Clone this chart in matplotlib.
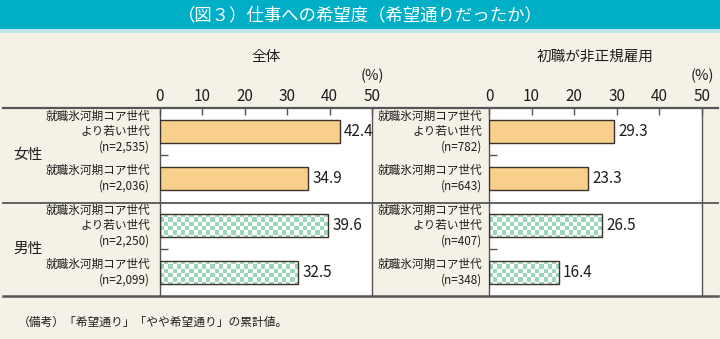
import numpy as np
import matplotlib
matplotlib.use("Agg")
import matplotlib.pyplot as plt
from matplotlib.lines import Line2D
from matplotlib.patches import Rectangle

plt.rcParams['font.family'] = ['Noto Sans CJK JP', 'DejaVu Sans']

# data
row_labels = ["就職氷河期コア世代\nより若い世代\n(n={})", "就職氷河期コア世代\n(n={})",
              "就職氷河期コア世代\nより若い世代\n(n={})", "就職氷河期コア世代\n(n={})"]
groups = ["女性", "男性"]
panel_titles = ["全体", "初職が非正規雇用"]
n_all = ["2,535", "2,036", "2,250", "2,099"]
n_irregular = ["782", "643", "407", "348"]
vals_all = [42.4, 34.9, 39.6, 32.5]
vals_irregular = [29.3, 23.3, 26.5, 16.4]
xticks = [0, 10, 20, 30, 40, 50]

W, H = 720, 339
bg = "#f4f1e6"
teal = "#00afc6"
orange = "#f9cf8c"
green = "#9bd7b8"
edge = "#3a3128"
line_c = "#555555"
txt = "#1e1e1e"

fig = plt.figure(figsize=(W / 100, H / 100), dpi=100, facecolor=bg)


def fx(px):
    return px / W


def fy(py):
    return 1 - py / H


# title band
fig.add_artist(Rectangle((0, fy(29)), 1, 29 / H, transform=fig.transFigure,
                         color=teal, lw=0))
fig.add_artist(Rectangle((0, fy(33)), 1, 4 / H, transform=fig.transFigure,
                         color="#bfe6ec", lw=0))
fig.text(0.5, fy(15), "（図３）仕事への希望度（希望通りだったか）", color="white",
         fontsize=12.5, ha="center", va="center")

top, bottom = 108, 296
panels = [(160, 372, vals_all, n_all, 150, panel_titles[0]),
          (489, 702, vals_irregular, n_irregular, 482, panel_titles[1])]

ypos = np.arange(4)
checker = (np.indices((60, 80)).sum(axis=0) % 2).astype(float)
cmap = matplotlib.colors.ListedColormap(["white", green])

for x0, x1, vals, ns, lab_x, title in panels:
    ax = fig.add_axes([fx(x0), fy(bottom), fx(x1 - x0), (bottom - top) / H])
    ax.set_facecolor("white")
    ax.set_xlim(0, 50)
    ax.set_ylim(3.5, -0.5)
    colors = [orange, orange, "white", "white"]
    bars = ax.barh(ypos, vals, height=0.49, color=colors, edgecolor=edge, lw=1.0, zorder=3)
    # checker fill for the male bars
    cw = 50 / (x1 - x0) * 4.2
    ch = 4 / (bottom - top) * 4.2
    for b in bars[2:]:
        xb, yb = b.get_x(), b.get_y()
        wb, hb = b.get_width(), b.get_height()
        nxc = int(np.ceil(wb / cw)) + 1
        nyc = int(np.ceil(hb / ch)) + 1
        im = ax.imshow(checker[:nyc, :nxc], cmap=cmap, vmin=0, vmax=1,
                       extent=(xb, xb + nxc * cw, yb, yb + nyc * ch),
                       origin="lower", interpolation="nearest", aspect="auto", zorder=2)
        im.set_clip_path(b)
        b.set_facecolor("none")
    for v, y in zip(vals, ypos):
        ax.text(v + 1.0, y, f"{v:.1f}", fontsize=11, va="center", ha="left", color=txt)
    ax.set_xticks(xticks)
    ax.xaxis.tick_top()
    ax.tick_params(axis="x", direction="in", length=5, width=1, color=line_c,
                   labelsize=11, pad=2, labelcolor=txt)
    ax.set_yticks([0.5, 2.5])
    ax.set_yticklabels([])
    ax.tick_params(axis="y", direction="in", length=6, width=1, color=line_c)
    for s in ax.spines.values():
        s.set_color(line_c)
        s.set_linewidth(1)
    ax.spines["top"].set_visible(False)
    ax.spines["bottom"].set_visible(False)
    # (%) and panel header
    fig.text(fx(x1), fy(76), "(%)", fontsize=10.5, ha="center", va="center", color=txt)
    fig.text(fx((x0 + x1) / 2), fy(57), title, fontsize=10.5, ha="center", va="center",
             color=txt)
    for y, lab, n in zip(ypos, row_labels, ns):
        fig.text(fx(lab_x), fy(top + (y + 0.5) * 47), lab.format(n), fontsize=8.4,
                 ha="right", va="center", linespacing=1.22, color=txt)

# group labels
for i, g in enumerate(groups):
    fig.text(fx(28), fy(top + (1 + 2 * i) * 47), g, fontsize=10.5, ha="center", va="center",
             color=txt)

# horizontal rules across the table
for py, lw in [(top, 1.6), (203, 1.3), (bottom, 1.8)]:
    fig.add_artist(Line2D([fx(3), fx(718)], [fy(py), fy(py)], transform=fig.transFigure,
                          color=line_c, lw=lw))

fig.text(fx(18), fy(322), "（備考）「希望通り」「やや希望通り」の累計値。", fontsize=8.5,
         ha="left", va="center", color=txt)

fig.savefig("out.png", dpi=100, facecolor=bg)
